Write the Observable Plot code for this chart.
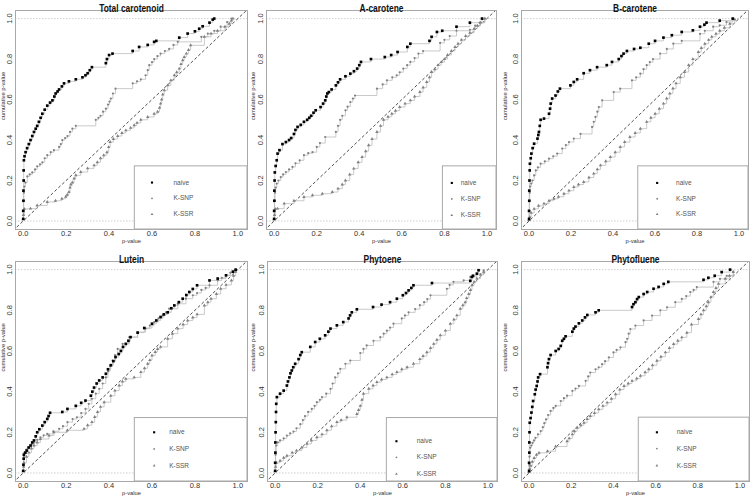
<!DOCTYPE html>
<html><head><meta charset="utf-8">
<script src="https://cdn.jsdelivr.net/npm/d3@7"></script>
<script src="https://cdn.jsdelivr.net/npm/@observablehq/plot@0.6"></script>
<style>
body{margin:0;background:#fff;font-family:"Liberation Sans",Arial,sans-serif}
#grid{display:grid;grid-template-columns:250px 250px 250px;grid-template-rows:248px 248px;width:750px;height:496px;overflow:hidden}
#grid svg{display:block}
</style></head><body><div id="grid"></div><script>
const titles = ["Total carotenoid","A-carotene","B-carotene","Lutein","Phytoene","Phytofluene"];
const seriesNames = ["naive","K-SNP","K-SSR"];
const xTicks = [0,0.2,0.4,0.6,0.8,1.0];
const yTicks = [0,0.2,0.4,0.6,0.8,1.0];
const xLabel = "p-value";
const yLabel = "cumulative p-value";

// Total carotenoid
const totNaive = [[0,0.01],[0,0.05],[0.001,0.1],[0.001,0.15],[0.002,0.2],[0.002,0.25],[0.003,0.3],[0.006,0.32],[0.011,0.34],[0.018,0.36],[0.026,0.38],[0.034,0.40],[0.042,0.42],[0.05,0.44],[0.058,0.456],[0.065,0.47],[0.073,0.49],[0.081,0.51],[0.089,0.53],[0.10,0.55],[0.112,0.57],[0.125,0.585],[0.136,0.596],[0.145,0.615],[0.151,0.63],[0.16,0.64],[0.167,0.65],[0.18,0.665],[0.19,0.68],[0.213,0.69],[0.245,0.70],[0.276,0.71],[0.29,0.72],[0.30,0.73],[0.31,0.745],[0.32,0.76],[0.385,0.78],[0.39,0.80],[0.40,0.82],[0.416,0.827],[0.51,0.84],[0.54,0.86],[0.58,0.87],[0.61,0.885],[0.62,0.89],[0.727,0.906],[0.766,0.926],[0.80,0.937],[0.82,0.95],[0.836,0.962],[0.868,0.98],[0.883,0.995],[0.89,1.0]];
const totSNP = [[0,0.01],[0.001,0.05],[0.002,0.1],[0.003,0.14],[0.005,0.17],[0.01,0.19],[0.019,0.22],[0.03,0.23],[0.042,0.24],[0.055,0.255],[0.065,0.27],[0.078,0.28],[0.089,0.29],[0.10,0.31],[0.112,0.325],[0.128,0.34],[0.143,0.35],[0.167,0.366],[0.175,0.38],[0.182,0.40],[0.195,0.41],[0.206,0.42],[0.218,0.44],[0.229,0.456],[0.245,0.47],[0.338,0.50],[0.35,0.51],[0.36,0.52],[0.372,0.54],[0.385,0.555],[0.395,0.575],[0.402,0.59],[0.408,0.605],[0.418,0.63],[0.43,0.654],[0.51,0.68],[0.53,0.69],[0.548,0.70],[0.57,0.72],[0.58,0.745],[0.587,0.77],[0.60,0.785],[0.61,0.80],[0.625,0.815],[0.64,0.827],[0.66,0.84],[0.68,0.85],[0.70,0.87],[0.72,0.885],[0.83,0.91],[0.86,0.926],[0.89,0.94],[0.92,0.96],[0.95,0.983],[0.97,1.0]];
const totSSR = [[0,0.01],[0.001,0.03],[0.005,0.06],[0.034,0.061],[0.065,0.077],[0.112,0.094],[0.15,0.10],[0.18,0.11],[0.198,0.12],[0.205,0.13],[0.213,0.143],[0.218,0.165],[0.222,0.18],[0.229,0.19],[0.237,0.21],[0.245,0.226],[0.268,0.242],[0.30,0.26],[0.33,0.275],[0.345,0.29],[0.36,0.31],[0.375,0.325],[0.39,0.34],[0.398,0.365],[0.405,0.39],[0.42,0.405],[0.44,0.42],[0.46,0.435],[0.478,0.448],[0.50,0.46],[0.517,0.473],[0.53,0.485],[0.548,0.50],[0.58,0.514],[0.61,0.53],[0.626,0.54],[0.635,0.56],[0.64,0.58],[0.645,0.60],[0.65,0.625],[0.657,0.646],[0.673,0.67],[0.688,0.695],[0.704,0.72],[0.715,0.735],[0.727,0.753],[0.735,0.775],[0.743,0.794],[0.75,0.81],[0.76,0.827],[0.77,0.845],[0.78,0.868],[0.844,0.91],[0.875,0.926],[0.905,0.94],[0.94,0.96],[0.96,0.975],[0.97,0.99],[0.977,1.0]];

// A-carotene
const aNaive = [[0,0.01],[0,0.05],[0.001,0.1],[0.001,0.15],[0.002,0.2],[0.003,0.24],[0.007,0.272],[0.012,0.30],[0.016,0.333],[0.025,0.35],[0.039,0.38],[0.055,0.39],[0.07,0.40],[0.08,0.41],[0.093,0.43],[0.10,0.45],[0.11,0.465],[0.125,0.475],[0.14,0.49],[0.155,0.50],[0.165,0.51],[0.174,0.52],[0.185,0.535],[0.195,0.547],[0.218,0.563],[0.23,0.58],[0.24,0.596],[0.245,0.615],[0.25,0.63],[0.257,0.637],[0.27,0.65],[0.29,0.67],[0.30,0.685],[0.31,0.70],[0.335,0.715],[0.358,0.728],[0.375,0.74],[0.39,0.753],[0.40,0.77],[0.408,0.786],[0.455,0.80],[0.52,0.81],[0.55,0.82],[0.58,0.835],[0.626,0.86],[0.64,0.876],[0.73,0.89],[0.74,0.91],[0.765,0.934],[0.79,0.94],[0.857,0.96],[0.92,0.98],[0.977,1.0]];
const aSNP = [[0,0.01],[0.001,0.05],[0.002,0.1],[0.004,0.14],[0.007,0.165],[0.012,0.185],[0.02,0.2],[0.031,0.217],[0.042,0.23],[0.055,0.242],[0.07,0.255],[0.086,0.267],[0.10,0.285],[0.12,0.30],[0.14,0.325],[0.16,0.335],[0.18,0.34],[0.20,0.366],[0.215,0.385],[0.24,0.415],[0.29,0.44],[0.30,0.47],[0.31,0.50],[0.32,0.52],[0.335,0.547],[0.345,0.565],[0.358,0.588],[0.37,0.605],[0.38,0.62],[0.483,0.654],[0.51,0.675],[0.53,0.695],[0.555,0.71],[0.576,0.72],[0.59,0.735],[0.607,0.753],[0.625,0.77],[0.64,0.786],[0.66,0.805],[0.678,0.827],[0.70,0.84],[0.78,0.88],[0.80,0.895],[0.825,0.914],[0.857,0.94],[0.92,0.945],[0.945,0.965],[0.966,0.98],[0.99,1.0]];
const aSSR = [[0,0.01],[0.002,0.03],[0.005,0.06],[0.016,0.061],[0.047,0.086],[0.093,0.10],[0.14,0.119],[0.18,0.127],[0.226,0.135],[0.273,0.143],[0.30,0.16],[0.32,0.18],[0.335,0.20],[0.355,0.23],[0.374,0.259],[0.395,0.29],[0.413,0.316],[0.43,0.345],[0.444,0.374],[0.46,0.405],[0.483,0.44],[0.50,0.47],[0.514,0.50],[0.535,0.515],[0.553,0.53],[0.57,0.545],[0.59,0.563],[0.615,0.58],[0.64,0.596],[0.66,0.615],[0.685,0.637],[0.70,0.66],[0.717,0.687],[0.73,0.71],[0.74,0.736],[0.755,0.75],[0.77,0.77],[0.785,0.785],[0.80,0.80],[0.815,0.82],[0.833,0.84],[0.85,0.86],[0.864,0.876],[0.88,0.895],[0.90,0.914],[0.92,0.93],[0.94,0.95],[0.955,0.965],[0.97,0.98],[0.99,1.0]];

// B-carotene
const bNaive = [[0,0.01],[0,0.05],[0.001,0.1],[0.001,0.15],[0.002,0.2],[0.003,0.25],[0.004,0.283],[0.008,0.31],[0.011,0.333],[0.017,0.36],[0.024,0.382],[0.04,0.407],[0.044,0.425],[0.047,0.44],[0.051,0.47],[0.055,0.50],[0.071,0.506],[0.095,0.53],[0.10,0.555],[0.103,0.58],[0.11,0.605],[0.126,0.62],[0.137,0.64],[0.147,0.654],[0.197,0.67],[0.213,0.687],[0.229,0.70],[0.26,0.73],[0.29,0.745],[0.324,0.76],[0.37,0.77],[0.395,0.786],[0.427,0.80],[0.44,0.815],[0.45,0.827],[0.466,0.84],[0.50,0.85],[0.53,0.856],[0.57,0.876],[0.60,0.89],[0.64,0.906],[0.68,0.918],[0.727,0.934],[0.78,0.942],[0.814,0.96],[0.835,0.97],[0.845,0.98],[0.908,0.99],[0.97,1.0]];
const bSNP = [[0,0.01],[0.001,0.05],[0.002,0.1],[0.003,0.14],[0.005,0.17],[0.01,0.185],[0.016,0.20],[0.024,0.225],[0.032,0.25],[0.042,0.265],[0.055,0.283],[0.075,0.295],[0.095,0.308],[0.115,0.32],[0.134,0.333],[0.158,0.358],[0.175,0.375],[0.19,0.39],[0.213,0.407],[0.245,0.43],[0.30,0.465],[0.308,0.49],[0.316,0.514],[0.325,0.54],[0.332,0.563],[0.348,0.596],[0.403,0.637],[0.434,0.654],[0.49,0.695],[0.51,0.71],[0.53,0.728],[0.545,0.75],[0.56,0.77],[0.575,0.785],[0.59,0.80],[0.624,0.827],[0.656,0.85],[0.687,0.876],[0.727,0.89],[0.814,0.925],[0.837,0.94],[0.877,0.96],[0.908,0.967],[0.94,0.983],[0.97,1.0]];
const bSSR = [[0,0.005],[0.003,0.02],[0.01,0.04],[0.024,0.06],[0.045,0.075],[0.071,0.086],[0.095,0.1],[0.118,0.11],[0.14,0.12],[0.166,0.135],[0.19,0.15],[0.213,0.168],[0.235,0.18],[0.26,0.193],[0.285,0.215],[0.308,0.234],[0.325,0.255],[0.34,0.275],[0.365,0.295],[0.387,0.316],[0.41,0.34],[0.434,0.366],[0.455,0.39],[0.48,0.415],[0.505,0.435],[0.53,0.456],[0.56,0.49],[0.58,0.51],[0.60,0.53],[0.62,0.555],[0.64,0.58],[0.655,0.605],[0.67,0.63],[0.685,0.655],[0.70,0.68],[0.72,0.71],[0.74,0.736],[0.76,0.77],[0.78,0.80],[0.806,0.835],[0.82,0.855],[0.837,0.876],[0.855,0.895],[0.87,0.91],[0.89,0.925],[0.908,0.94],[0.93,0.955],[0.956,0.975],[0.98,0.995]];

// Lutein
const lutNaive = [[0,0.01],[0.001,0.04],[0.002,0.07],[0.003,0.09],[0.01,0.10],[0.016,0.11],[0.025,0.125],[0.034,0.135],[0.042,0.15],[0.05,0.16],[0.058,0.18],[0.065,0.20],[0.075,0.215],[0.089,0.233],[0.10,0.25],[0.112,0.266],[0.118,0.28],[0.125,0.296],[0.182,0.30],[0.206,0.315],[0.245,0.33],[0.27,0.345],[0.29,0.356],[0.315,0.38],[0.322,0.40],[0.33,0.42],[0.342,0.44],[0.354,0.455],[0.37,0.47],[0.385,0.488],[0.395,0.51],[0.408,0.53],[0.42,0.55],[0.43,0.57],[0.445,0.585],[0.455,0.60],[0.465,0.62],[0.478,0.635],[0.49,0.65],[0.50,0.668],[0.533,0.69],[0.564,0.713],[0.60,0.734],[0.62,0.75],[0.64,0.767],[0.655,0.78],[0.673,0.79],[0.69,0.81],[0.704,0.824],[0.725,0.84],[0.743,0.857],[0.76,0.875],[0.774,0.89],[0.79,0.905],[0.81,0.923],[0.868,0.947],[0.906,0.956],[0.945,0.972],[0.977,0.99],[0.99,1.0]];
const lutSNP = [[0,0.01],[0.001,0.04],[0.003,0.08],[0.005,0.10],[0.015,0.115],[0.026,0.126],[0.038,0.14],[0.05,0.15],[0.065,0.163],[0.08,0.175],[0.095,0.185],[0.112,0.192],[0.14,0.205],[0.167,0.217],[0.185,0.23],[0.206,0.25],[0.23,0.265],[0.25,0.274],[0.27,0.295],[0.29,0.315],[0.305,0.34],[0.32,0.365],[0.338,0.39],[0.354,0.414],[0.37,0.44],[0.385,0.47],[0.395,0.50],[0.405,0.525],[0.416,0.553],[0.428,0.58],[0.44,0.61],[0.463,0.635],[0.494,0.668],[0.533,0.693],[0.57,0.71],[0.59,0.725],[0.61,0.742],[0.63,0.76],[0.65,0.775],[0.665,0.79],[0.68,0.808],[0.72,0.832],[0.758,0.857],[0.79,0.874],[0.81,0.885],[0.83,0.90],[0.85,0.91],[0.868,0.923],[0.906,0.947],[0.925,0.96],[0.945,0.972],[0.965,0.985],[0.985,0.997]];
const lutSSR = [[0,0.01],[0.002,0.03],[0.003,0.05],[0.015,0.08],[0.026,0.10],[0.038,0.12],[0.05,0.135],[0.065,0.15],[0.08,0.167],[0.12,0.184],[0.143,0.20],[0.206,0.21],[0.283,0.217],[0.30,0.235],[0.32,0.25],[0.333,0.275],[0.346,0.30],[0.36,0.325],[0.377,0.348],[0.408,0.38],[0.427,0.405],[0.447,0.43],[0.462,0.45],[0.478,0.463],[0.517,0.47],[0.548,0.496],[0.565,0.515],[0.58,0.537],[0.59,0.555],[0.60,0.578],[0.615,0.595],[0.626,0.61],[0.64,0.62],[0.673,0.66],[0.695,0.685],[0.72,0.71],[0.745,0.73],[0.766,0.75],[0.79,0.765],[0.81,0.78],[0.844,0.824],[0.86,0.84],[0.875,0.857],[0.9,0.88],[0.92,0.906],[0.945,0.925],[0.97,0.947],[0.98,0.97],[0.99,0.99]];

// Phytoene
const phyNaive = [[0,0.01],[0,0.05],[0.001,0.1],[0.001,0.15],[0.002,0.2],[0.003,0.25],[0.004,0.3],[0.005,0.34],[0.008,0.373],[0.023,0.39],[0.04,0.405],[0.055,0.43],[0.06,0.45],[0.067,0.47],[0.072,0.49],[0.078,0.504],[0.085,0.52],[0.094,0.537],[0.11,0.56],[0.118,0.58],[0.125,0.594],[0.165,0.62],[0.188,0.644],[0.21,0.66],[0.235,0.677],[0.25,0.695],[0.26,0.71],[0.29,0.726],[0.32,0.742],[0.345,0.76],[0.352,0.775],[0.36,0.79],[0.384,0.805],[0.46,0.816],[0.50,0.828],[0.54,0.84],[0.572,0.857],[0.60,0.874],[0.615,0.885],[0.627,0.898],[0.64,0.91],[0.65,0.923],[0.737,0.934],[0.917,0.945],[0.925,0.964],[0.93,0.97],[0.948,0.98],[0.956,0.997]];
const phySNP = [[0,0.01],[0.001,0.05],[0.002,0.09],[0.005,0.135],[0.012,0.15],[0.023,0.16],[0.04,0.17],[0.055,0.184],[0.07,0.195],[0.086,0.204],[0.10,0.22],[0.118,0.24],[0.13,0.26],[0.14,0.28],[0.155,0.3],[0.172,0.315],[0.185,0.33],[0.196,0.348],[0.21,0.36],[0.22,0.373],[0.24,0.39],[0.26,0.414],[0.27,0.44],[0.282,0.47],[0.295,0.49],[0.306,0.512],[0.33,0.537],[0.353,0.553],[0.40,0.59],[0.415,0.61],[0.43,0.627],[0.462,0.65],[0.494,0.668],[0.51,0.685],[0.525,0.70],[0.54,0.715],[0.556,0.734],[0.595,0.76],[0.61,0.775],[0.627,0.79],[0.658,0.806],[0.68,0.825],[0.70,0.84],[0.715,0.855],[0.73,0.874],[0.807,0.906],[0.82,0.925],[0.838,0.94],[0.886,0.947],[0.917,0.964],[0.948,0.98],[0.98,0.997]];
const phySSR = [[0,0.01],[0.002,0.03],[0.005,0.05],[0.023,0.06],[0.04,0.075],[0.055,0.085],[0.08,0.1],[0.10,0.11],[0.125,0.125],[0.149,0.143],[0.17,0.16],[0.196,0.176],[0.22,0.19],[0.243,0.21],[0.265,0.23],[0.29,0.25],[0.31,0.26],[0.337,0.274],[0.384,0.29],[0.392,0.31],[0.40,0.33],[0.408,0.36],[0.415,0.39],[0.44,0.414],[0.46,0.43],[0.478,0.447],[0.50,0.46],[0.525,0.47],[0.55,0.485],[0.572,0.496],[0.595,0.51],[0.62,0.52],[0.65,0.537],[0.68,0.56],[0.695,0.575],[0.713,0.594],[0.73,0.615],[0.745,0.635],[0.76,0.655],[0.776,0.677],[0.80,0.70],[0.823,0.734],[0.84,0.755],[0.854,0.775],[0.87,0.808],[0.882,0.825],[0.893,0.84],[0.90,0.86],[0.91,0.88],[0.918,0.90],[0.925,0.923],[0.935,0.94],[0.948,0.956],[0.965,0.975],[0.98,0.99]];

// Phytofluene
const pflNaive = [[0,0.01],[0,0.05],[0.001,0.1],[0.001,0.15],[0.002,0.2],[0.003,0.247],[0.007,0.27],[0.011,0.297],[0.015,0.325],[0.019,0.354],[0.027,0.387],[0.031,0.41],[0.036,0.428],[0.04,0.45],[0.043,0.47],[0.052,0.486],[0.087,0.52],[0.09,0.54],[0.094,0.56],[0.102,0.58],[0.126,0.60],[0.14,0.61],[0.15,0.625],[0.157,0.65],[0.165,0.66],[0.173,0.672],[0.205,0.695],[0.212,0.71],[0.22,0.72],[0.236,0.736],[0.252,0.75],[0.265,0.765],[0.276,0.777],[0.315,0.79],[0.33,0.80],[0.488,0.816],[0.495,0.83],[0.504,0.84],[0.512,0.855],[0.52,0.865],[0.543,0.88],[0.56,0.89],[0.59,0.906],[0.614,0.915],[0.638,0.93],[0.66,0.94],[0.827,0.95],[0.85,0.96],[0.88,0.97],[0.913,0.988],[0.953,1.0]];
const pflSNP = [[0,0.01],[0.001,0.04],[0.002,0.08],[0.005,0.124],[0.01,0.135],[0.016,0.148],[0.023,0.16],[0.03,0.173],[0.042,0.19],[0.055,0.206],[0.065,0.225],[0.072,0.245],[0.08,0.264],[0.09,0.285],[0.102,0.305],[0.115,0.32],[0.126,0.33],[0.15,0.354],[0.165,0.368],[0.18,0.38],[0.205,0.404],[0.22,0.415],[0.236,0.428],[0.268,0.453],[0.28,0.475],[0.29,0.494],[0.315,0.51],[0.33,0.52],[0.346,0.535],[0.36,0.55],[0.378,0.568],[0.40,0.593],[0.415,0.605],[0.433,0.618],[0.457,0.643],[0.465,0.66],[0.472,0.685],[0.48,0.708],[0.504,0.725],[0.543,0.75],[0.583,0.774],[0.622,0.80],[0.654,0.815],[0.693,0.84],[0.724,0.856],[0.745,0.87],[0.764,0.89],[0.78,0.9],[0.795,0.914],[0.874,0.94],[0.905,0.955],[0.937,0.97],[0.968,0.99]];
const pflSSR = [[0,0.005],[0.003,0.02],[0.008,0.035],[0.015,0.055],[0.024,0.074],[0.035,0.09],[0.047,0.099],[0.087,0.107],[0.126,0.13],[0.18,0.156],[0.19,0.17],[0.205,0.19],[0.215,0.205],[0.228,0.222],[0.245,0.235],[0.26,0.247],[0.275,0.265],[0.29,0.28],[0.31,0.295],[0.33,0.313],[0.35,0.33],[0.37,0.346],[0.39,0.365],[0.41,0.387],[0.43,0.41],[0.45,0.428],[0.47,0.44],[0.488,0.453],[0.51,0.465],[0.528,0.478],[0.55,0.495],[0.567,0.51],[0.585,0.53],[0.606,0.552],[0.625,0.572],[0.646,0.593],[0.665,0.615],[0.685,0.634],[0.705,0.65],[0.724,0.667],[0.748,0.69],[0.77,0.73],[0.803,0.757],[0.815,0.78],[0.827,0.80],[0.84,0.82],[0.85,0.84],[0.862,0.865],[0.874,0.89],[0.886,0.91],[0.898,0.93],[0.93,0.955],[0.95,0.97],[0.968,0.988]];

const panelSeries = [
  [totNaive, totSNP, totSSR],
  [aNaive, aSNP, aSSR],
  [bNaive, bSNP, bSSR],
  [lutNaive, lutSNP, lutSSR],
  [phyNaive, phySNP, phySSR],
  [pflNaive, pflSNP, pflSSR]
];

// layout (pixels / legend placement), kept apart from the data
const xDomain = [-0.036, 1.045];
const yDomain = [-0.042, 1.04];
const layout = [
  {ml:15, mr:3, mt:10, mb:19, ylabX:3, titleY:4, leg:{x0:0.52, y0:0.27, sx:0.60, tx:0.70, ys:[0.19,0.112,0.033]}},
  {ml:16, mr:4, mt:10, mb:19, ylabX:3, titleY:4, leg:{x0:0.793, y0:0.27, sx:0.835, tx:0.877, ys:[0.188,0.109,0.028]}},
  {ml:21, mr:2, mt:10, mb:19, ylabX:5, titleY:4, leg:{x0:0.52, y0:0.27, sx:0.61, tx:0.70, ys:[0.188,0.11,0.033]}},
  {ml:15, mr:3, mt:13, mb:15, ylabX:3, titleY:7, leg:{x0:0.52, y0:0.27, sx:0.61, tx:0.68, ys:[0.20,0.118,0.036]}},
  {ml:17, mr:3, mt:13, mb:15, ylabX:3, titleY:7, leg:{x0:0.525, y0:0.27, sx:0.57, tx:0.665, ys:[0.156,0.077,-0.005]}},
  {ml:21, mr:1, mt:13, mb:15, ylabX:5, titleY:7, leg:{x0:0.52, y0:0.272, sx:0.606, tx:0.70, ys:[0.20,0.12,0.036]}}
];

const symbols = ["square","circle","triangle"];
const fills = ["#000000","#808080","#808080"];
const sizes = [1.5,1.1,1.25];
const legSizes = [1.2,0.9,1.0];

function panel(i) {
  const L = layout[i];
  const rows = [];
  panelSeries[i].forEach((arr, k) => arr.forEach(([x, y]) => rows.push({x, y, s: seriesNames[k]})));
  const legRows = seriesNames.map((s, k) => ({s, y: L.leg.ys[k]}));
  const marks = [
    Plot.ruleY([0, 1], {stroke: "#c4c4c4", strokeDasharray: "1.5,1.5", strokeWidth: 0.8}),
    Plot.link([0], {x1: xDomain[0] - 0.1, y1: xDomain[0] - 0.1, x2: xDomain[1] + 0.1, y2: xDomain[1] + 0.1,
      stroke: "#222", strokeDasharray: "3,2.2", strokeWidth: 0.8, clip: true}),
    Plot.line(rows, {x: "x", y: "y", z: "s", curve: "step-after", stroke: "#bdbdbd", strokeWidth: 0.8})
  ];
  [2, 1, 0].forEach(k => {
    marks.push(Plot.dot(rows.filter(d => d.s === seriesNames[k]),
      {x: "x", y: "y", symbol: symbols[k], fill: fills[k], r: sizes[k], stroke: "none"}));
  });
  marks.push(
    Plot.frame({stroke: "#a8a8a8"}),
    Plot.rect([0], {x1: L.leg.x0, x2: xDomain[1], y1: yDomain[0], y2: L.leg.y0, fill: "#fff", stroke: "#a8a8a8", strokeWidth: 1})
  );
  seriesNames.forEach((s, k) => {
    marks.push(Plot.dot([legRows[k]], {x: () => L.leg.sx, y: "y", symbol: symbols[k], fill: fills[k], r: legSizes[k], stroke: "none"}));
  });
  marks.push(
    Plot.text(legRows, {x: () => L.leg.tx, y: "y", text: "s", textAnchor: "start", fontSize: 6.5, fill: "#555"}),
    Plot.axisX({ticks: xTicks, tickSize: 0, tickPadding: 1.5, tickFormat: ".1f", label: null, fontSize: 7.5, fill: "#333"}),
    Plot.axisY({ticks: yTicks, tickSize: 0, tickRotate: -90, tickPadding: 3.5, tickFormat: ".1f", label: null, fontSize: 7.5, fill: "#333"}),
    Plot.text([xLabel], {frameAnchor: "bottom", dy: 13, text: d => d, fontSize: 5.8, fill: "#333"}),
    Plot.text([yLabel], {frameAnchor: "left", rotate: -90, dx: L.ylabX - L.ml, text: d => d, fontSize: 5.8, fill: "#333"}),
    Plot.text([titles[i]], {frameAnchor: "top", dy: L.titleY - L.mt, text: d => d, fontSize: 10.5, fontWeight: "bold", fill: "#111"})
  );
  return Plot.plot({
    width: 250, height: 248,
    marginLeft: L.ml, marginRight: L.mr, marginTop: L.mt, marginBottom: L.mb,
    x: {domain: xDomain}, y: {domain: yDomain},
    style: {fontFamily: "'Liberation Sans', Arial, sans-serif", background: "#fff", overflow: "visible"},
    marks
  });
}

const grid = document.getElementById("grid");
for (let i = 0; i < 6; i++) {
  const svg = panel(i);
  grid.appendChild(svg);
  // narrow the bold title glyphs horizontally, as in the reference
  svg.querySelectorAll("text").forEach(t => {
    if (t.textContent === titles[i]) {
      const len = t.getComputedTextLength();
      t.setAttribute("textLength", (len * 0.8).toFixed(1));
      t.setAttribute("lengthAdjust", "spacingAndGlyphs");
    }
  });
}
</script></body></html>
